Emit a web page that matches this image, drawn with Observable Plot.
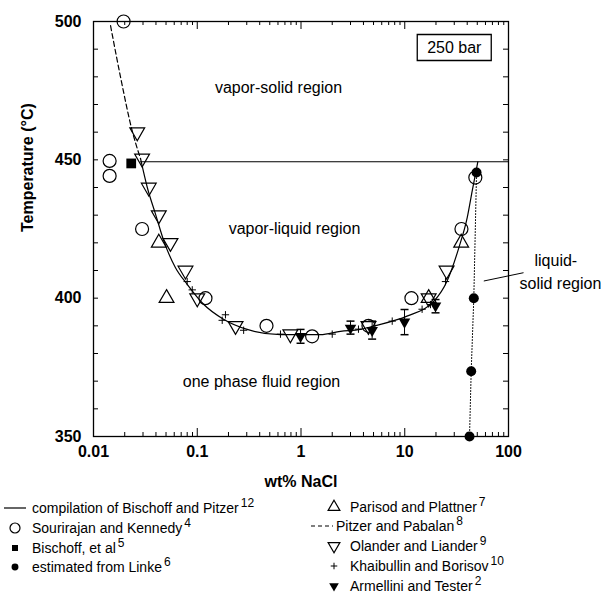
<!DOCTYPE html>
<html><head><meta charset="utf-8">
<script src="https://cdn.jsdelivr.net/npm/d3@7"></script>
<script src="https://cdn.jsdelivr.net/npm/@observablehq/plot@0.6"></script>
<style>
body{margin:0;background:#fff;font-family:"Liberation Sans",Arial,Helvetica,sans-serif;color:#000;}
#wrap{position:relative;width:612px;height:603px;overflow:hidden;}
#chart{position:absolute;left:0;top:0;}
.item{position:absolute;font-size:14px;line-height:18px;height:18px;white-space:nowrap;}
.item sup{font-size:12px;vertical-align:6px;line-height:0;margin-left:2px;}
.sym{position:absolute;overflow:visible;}
</style></head><body><div id="wrap"><div id="chart"></div></div>
<script>
// ---- data (wt% NaCl, temperature °C) ----
const curveX = [0.0284,0.033,0.0396,0.0476,0.0617,0.08,0.115,0.179,0.303,0.634,1.54,2.4,3.74,5.0,10.5,19.1,25.6,33.2,40.0,44.7,50.6];
const curveT = [450.4,440,430.4,420.7,411,405,397.8,392.4,388.7,386.8,386.8,388,388.7,389.9,393.5,398.9,406.2,418.2,429.1,438.8,449.3];
const pitzerX = [0.0146,0.0182,0.0236,0.0284];
const pitzerT = [498.5,480,460.5,450.4];
const threePhaseX = [0.0284,100];
const threePhaseT = [449.3,449.3];
const sourirajanX = [0.0195,0.0143,0.0143,0.0294,0.12,0.465,1.28,4.47,11.6,35.2,47.9];
const sourirajanT = [500,449.6,444.2,425,400,390,386.2,390,400,425,443.6];
const bischoffX = [0.0231];
const bischoffT = [448.7];
const linkeX = [42.1,43.7,46.3,49.2];
const linkeT = [350,373.6,400,445.4];
const parisodX = [0.0426,0.0506,17,35];
const parisodT = [420,400,400,420];
const olanderX = [0.0264,0.0294,0.0341,0.0426,0.0552,0.077,0.1,0.234,0.79,4.47,17,25.3];
const olanderT = [460,450.5,440,430,420,410,400,390,387,390,400,410];
const khaibullinX = [0.08,0.0895,0.174,0.187,0.28,0.634,2.0,3.58,7.57,14.7,17.7,24.7];
const khaibullinT = [406,403,392,394,388.4,387,387,388.8,391.7,396,397.7,406];
const armelliniX = [0.99,3.0,4.85,9.95,19.8];
const armelliniT = [386.2,389.2,388.4,391.4,397.2];
const armelliniLo = [383.7,387,385.2,386.8,394.7];
const armelliniHi = [388.7,391.7,391.7,395.9,399.5];
// tick labels
const xTickValues = [0.01,0.1,1,10,100];
const xTickLabels = ["0.01","0.1","1","10","100"];
const yTickValues = [350,400,450,500];
const yTickLabels = ["350","400","450","500"];
// annotations
const regionLabels = ["vapor-solid region","vapor-liquid region","one phase fluid region"];
const regionX = [0.607,0.865,0.416];
const regionT = [476,425,369.6];
const sideLabels = ["liquid-","solid region"];
const sideX = [178,127.7];
const sideT = [413.4,405];
const leaderX = [57.8,139.6];
const leaderT = [406.2,409.2];
const pressureLabel = "250 bar";
const pressureX = 30, pressureT = 490.6;

const zip = (xs, ts) => xs.map((x, i) => ({x, t: ts[i]}));

// minor ticks
const xMinor = [];
for (const dec of [0.01,0.1,1,10]) for (let k = 2; k <= 9; k++) xMinor.push(+(dec*k).toPrecision(3));
const yMinor = d3.range(350, 501, 10);

const W = 612, H = 498, mL = 93, mR = 104, mT = 21, mB = 62;
const pw = W - mL - mR, ph = H - mT - mB;

const capSymbol = {draw(ctx){ctx.moveTo(-4,0);ctx.lineTo(4,0);}};
const boxSymbol = {draw(ctx){ctx.rect(-37,-13,74,26);}};

const black = "black";
const chart = Plot.plot({
  width: W, height: H,
  marginLeft: mL, marginRight: mR, marginTop: mT, marginBottom: mB,
  style: {fontFamily: '"Liberation Sans",Arial,Helvetica,sans-serif', fontSize: "16px", color: black, background: "white", overflow: "visible"},
  x: {type: "log", domain: [0.01, 100]},
  y: {domain: [350, 500]},
  marks: [
    // inward ticks
    Plot.tickY(yMinor, {y: d => d, insetRight: pw - 5, stroke: black}),
    Plot.tickY(yMinor, {y: d => d, insetLeft: pw - 5, stroke: black}),
    Plot.tickX(xMinor, {x: d => d, insetTop: ph - 4, stroke: black}),
    Plot.tickX(xMinor, {x: d => d, insetBottom: ph - 4, stroke: black}),
    Plot.tickX(xTickValues, {x: d => d, insetTop: ph - 8, stroke: black}),
    Plot.tickX(xTickValues, {x: d => d, insetBottom: ph - 8, stroke: black}),
    Plot.frame({stroke: black, strokeWidth: 1.3}),
    Plot.axisX(xTickValues, {tickSize: 0, tickPadding: 9, tickFormat: d => xTickLabels[xTickValues.indexOf(d)], fontSize: 16, fontWeight: "bold", label: null}),
    Plot.axisY(yTickValues, {tickSize: 0, tickPadding: 12, tickFormat: d => yTickLabels[yTickValues.indexOf(d)], fontSize: 16, fontWeight: "bold", label: null}),
    Plot.text(["wt% NaCl"], {text: d => d, frameAnchor: "bottom", dy: 50, fontSize: 16, fontWeight: "bold"}),
    Plot.text(["Temperature (°C)"], {text: d => d, frameAnchor: "left", rotate: -90, dx: -66, dy: 3, fontSize: 16, fontWeight: "bold"}),
    // curves
    Plot.line(zip(threePhaseX, threePhaseT), {x: "x", y: "t", stroke: black, strokeWidth: 1.2}),
    Plot.line(zip(curveX, curveT), {x: "x", y: "t", stroke: black, strokeWidth: 1.2, curve: "monotone-x"}),
    Plot.line(zip(pitzerX, pitzerT), {x: "x", y: "t", stroke: black, strokeWidth: 1.2, strokeDasharray: "5,3", curve: "monotone-x"}),
    Plot.line(zip(linkeX, linkeT), {x: "x", y: "t", stroke: black, strokeWidth: 1, strokeDasharray: "1,2"}),
    Plot.link([0], {x1: leaderX[0], y1: leaderT[0], x2: leaderX[1], y2: leaderT[1], stroke: black, strokeWidth: 1}),
    // error bars
    Plot.ruleX(armelliniX.map((x, i) => ({x, lo: armelliniLo[i], hi: armelliniHi[i]})), {x: "x", y1: "lo", y2: "hi", stroke: black}),
    Plot.dot(zip(armelliniX, armelliniLo), {x: "x", y: "t", symbol: capSymbol, stroke: black, fill: "none"}),
    Plot.dot(zip(armelliniX, armelliniHi), {x: "x", y: "t", symbol: capSymbol, stroke: black, fill: "none"}),
    // points
    Plot.dot(zip(sourirajanX, sourirajanT), {x: "x", y: "t", r: 6.5, stroke: black, fill: "none", strokeWidth: 1.2}),
    Plot.dot(zip(parisodX, parisodT), {x: "x", y: "t", symbol: "triangle", r: 5.5, stroke: black, fill: "none", strokeWidth: 1.2}),
    Plot.dot(zip(olanderX, olanderT), {x: "x", y: "t", symbol: "triangle", rotate: 180, r: 5.5, stroke: black, fill: "none", strokeWidth: 1.2}),
    Plot.dot(zip(khaibullinX, khaibullinT), {x: "x", y: "t", symbol: "plus", r: 2.5, stroke: black, strokeWidth: 1}),
    Plot.dot(zip(armelliniX, armelliniT), {x: "x", y: "t", symbol: "triangle", rotate: 180, r: 4.3, fill: black, stroke: "none"}),
    Plot.dot(zip(bischoffX, bischoffT), {x: "x", y: "t", symbol: "square", r: 5.5, fill: black, stroke: "none"}),
    Plot.dot(zip(linkeX, linkeT), {x: "x", y: "t", r: 5, fill: black, stroke: "none"}),
    // annotations
    Plot.text(regionLabels.map((s, i) => ({s, x: regionX[i], t: regionT[i]})), {x: "x", y: "t", text: "s", fontSize: 16}),
    Plot.text(sideLabels.map((s, i) => ({s, x: sideX[i], t: sideT[i]})), {x: "x", y: "t", text: "s", fontSize: 16, textAnchor: "start"}),
    Plot.dot([0], {x: pressureX, y: pressureT, symbol: boxSymbol, stroke: black, fill: "none", strokeWidth: 1.3}),
    Plot.text([pressureLabel], {x: pressureX, y: pressureT, text: d => d, fontSize: 16})
  ]
});
document.getElementById("chart").appendChild(chart);

// ---- legend ----
const legendLeft = [
  {kind: "line", label: "compilation of Bischoff and Pitzer", sup: "12"},
  {kind: "circle", label: "Sourirajan and Kennedy", sup: "4"},
  {kind: "square", label: "Bischoff, et al", sup: "5"},
  {kind: "dot", label: "estimated from Linke", sup: "6"}
];
const legendRight = [
  {kind: "tri", label: "Parisod and Plattner", sup: "7"},
  {kind: "dash", label: "Pitzer and Pabalan", sup: "8"},
  {kind: "tridown", label: "Olander and Liander", sup: "9"},
  {kind: "plus", label: "Khaibullin and Borisov", sup: "10"},
  {kind: "tridownfill", label: "Armellini and Tester", sup: "2"}
];
const legendLeftY = [508, 528, 548, 567];
const legendRightY = [507, 526, 546, 566, 586];

function symbolSvg(kind) {
  const ns = "http://www.w3.org/2000/svg";
  const s = document.createElementNS(ns, "svg");
  s.setAttribute("width", 30); s.setAttribute("height", 16);
  s.setAttribute("viewBox", "-15 -8 30 16");
  s.setAttribute("class", "sym");
  const p = document.createElementNS(ns, "path");
  let d, fill = "none", stroke = "black", sw = 1.2, dash = null;
  if (kind === "line") d = "M-11,0H11";
  else if (kind === "dash") { d = "M-11,0H11"; dash = "4,3"; }
  else if (kind === "circle") d = d3.symbol(d3.symbolCircle, Math.PI * 25)();
  else if (kind === "square") { d = d3.symbol(d3.symbolSquare, 36)(); fill = "black"; stroke = "none"; }
  else if (kind === "dot") { d = d3.symbol(d3.symbolCircle, Math.PI * 12)(); fill = "black"; stroke = "none"; }
  else if (kind === "tri") d = d3.symbol(d3.symbolTriangle, 60)();
  else if (kind === "tridown") { d = d3.symbol(d3.symbolTriangle, 60)(); p.setAttribute("transform", "rotate(180)"); }
  else if (kind === "tridownfill") { d = d3.symbol(d3.symbolTriangle, 40)(); p.setAttribute("transform", "rotate(180)"); fill = "black"; stroke = "none"; }
  else if (kind === "plus") { d = d3.symbol(d3.symbolPlus, 16)(); sw = 1; }
  p.setAttribute("d", d); p.setAttribute("fill", fill); p.setAttribute("stroke", stroke);
  p.setAttribute("stroke-width", sw); if (dash) p.setAttribute("stroke-dasharray", dash);
  s.appendChild(p);
  return s;
}
const wrap = document.getElementById("wrap");
function addLegend(items, ys, symX, textX) {
  items.forEach((it, i) => {
    const sx = it.kind === "dash" ? symX - 12 : symX;
    const sv = symbolSvg(it.kind);
    sv.style.left = (sx - 15) + "px"; sv.style.top = (ys[i] - 8) + "px";
    wrap.appendChild(sv);
    const div = document.createElement("div");
    div.className = "item";
    div.style.left = (it.kind === "dash" ? textX - 14 : textX) + "px"; div.style.top = (ys[i] - 9) + "px";
    div.textContent = it.label;
    const sp = document.createElement("sup"); sp.textContent = it.sup; div.appendChild(sp);
    wrap.appendChild(div);
  });
}
addLegend(legendLeft, legendLeftY, 15, 32);
addLegend(legendRight, legendRightY, 334, 350);
</script>
</body></html>
